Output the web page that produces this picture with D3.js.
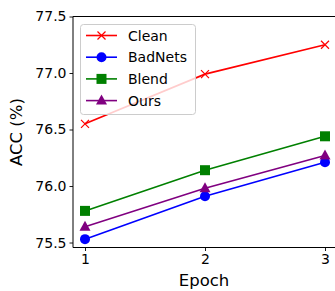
<!DOCTYPE html>
<html><head><meta charset="utf-8">
<script src="https://cdn.jsdelivr.net/npm/d3@7"></script>
<style>body{margin:0;background:#fff}svg{display:block}text{font-family:"DejaVu Sans",sans-serif}</style>
</head><body>
<svg id="c" width="335" height="291"></svg>
<script>
const epochs = [1, 2, 3];
const clean = [76.55, 76.99, 77.25];
const badnets = [75.53, 75.91, 76.21];
const blend = [75.78, 76.14, 76.44];
const ours = [75.64, 75.98, 76.27];
const yTicks = [75.5, 76.0, 76.5, 77.0, 77.5];
const seriesNames = ["Clean", "BadNets", "Blend", "Ours"];

const series = [
  {name: seriesNames[0], vals: clean, color: "red", marker: "x"},
  {name: seriesNames[1], vals: badnets, color: "blue", marker: "o"},
  {name: seriesNames[2], vals: blend, color: "green", marker: "s"},
  {name: seriesNames[3], vals: ours, color: "purple", marker: "^"}
];

const svg = d3.select("#c");
const L = 73, R = 337, T = 16.5, B = 247.5;
const x = d3.scaleLinear().domain([0.9, 3.1]).range([L, R]);
const y = d3.scaleLinear().domain([75.456, 77.5]).range([B, T]);

function marker(g, type, color) {
  if (type === "x") {
    g.append("path").attr("d", "M-4,-4L4,4M-4,4L4,-4").attr("stroke", color).attr("stroke-width", 1.2).attr("fill", "none");
  } else if (type === "o") {
    g.append("circle").attr("r", 5).attr("fill", color);
  } else if (type === "s") {
    g.append("rect").attr("x", -5).attr("y", -5).attr("width", 10).attr("height", 10).attr("fill", color);
  } else if (type === "^") {
    g.append("path").attr("d", "M0,-6L5.5,4L-5.5,4Z").attr("fill", color);
  }
}

const line = d3.line().x((d, i) => x(epochs[i])).y(d => y(d));
series.forEach(s => {
  svg.append("path").datum(s.vals).attr("d", line).attr("fill", "none").attr("stroke", s.color).attr("stroke-width", 1.6);
  s.vals.forEach((v, i) => {
    const g = svg.append("g").attr("transform", `translate(${x(epochs[i])},${y(v)})`);
    marker(g, s.marker, s.color);
  });
});

// axes
const yAxis = d3.axisLeft(y).tickValues(yTicks).tickFormat(d3.format(".1f")).tickSize(3.5).tickPadding(3);
const gy = svg.append("g").attr("transform", `translate(${L},0)`).call(yAxis);
const xAxis = d3.axisBottom(x).tickValues(epochs).tickFormat(d3.format("d")).tickSize(3.5).tickPadding(3);
const gx = svg.append("g").attr("transform", `translate(0,${B})`).call(xAxis);
[gx, gy].forEach(g => {
  g.select(".domain").remove();
  g.selectAll("text").attr("font-size", 14).attr("fill", "#000").style("font-family", "DejaVu Sans");
  g.selectAll("line").attr("stroke", "#000").attr("stroke-width", 0.9);
});
// spines
svg.append("line").attr("x1", L).attr("x2", L).attr("y1", T).attr("y2", B).attr("stroke", "#000").attr("stroke-width", 1);
svg.append("line").attr("x1", L).attr("x2", R).attr("y1", T).attr("y2", T).attr("stroke", "#000").attr("stroke-width", 1);
svg.append("line").attr("x1", L).attr("x2", R).attr("y1", B).attr("y2", B).attr("stroke", "#000").attr("stroke-width", 1);
svg.append("line").attr("x1", R).attr("x2", R).attr("y1", T).attr("y2", B).attr("stroke", "#000").attr("stroke-width", 1);

svg.append("text").attr("x", (L + R) / 2 - 1).attr("y", 286).attr("text-anchor", "middle").attr("font-size", 16.5).text("Epoch");
svg.append("text").attr("transform", `translate(22,${(T + B) / 2}) rotate(-90)`).attr("text-anchor", "middle").attr("font-size", 16.5).text("ACC (%)");

// legend
const lg = svg.append("g");
lg.append("rect").attr("x", 80.5).attr("y", 24.5).attr("width", 115).attr("height", 90).attr("rx", 3)
  .attr("fill", "#fff").attr("fill-opacity", 0.8).attr("stroke", "#ccc").attr("stroke-width", 1);
series.forEach((s, i) => {
  const yy = 35.5 + i * 21.7;
  lg.append("line").attr("x1", 86).attr("x2", 117).attr("y1", yy).attr("y2", yy).attr("stroke", s.color).attr("stroke-width", 1.6);
  const g = lg.append("g").attr("transform", `translate(101.5,${yy})`);
  marker(g, s.marker, s.color);
  lg.append("text").attr("x", 128).attr("y", yy).attr("dy", "0.36em").attr("font-size", 14).text(s.name);
});
</script>
</body></html>
